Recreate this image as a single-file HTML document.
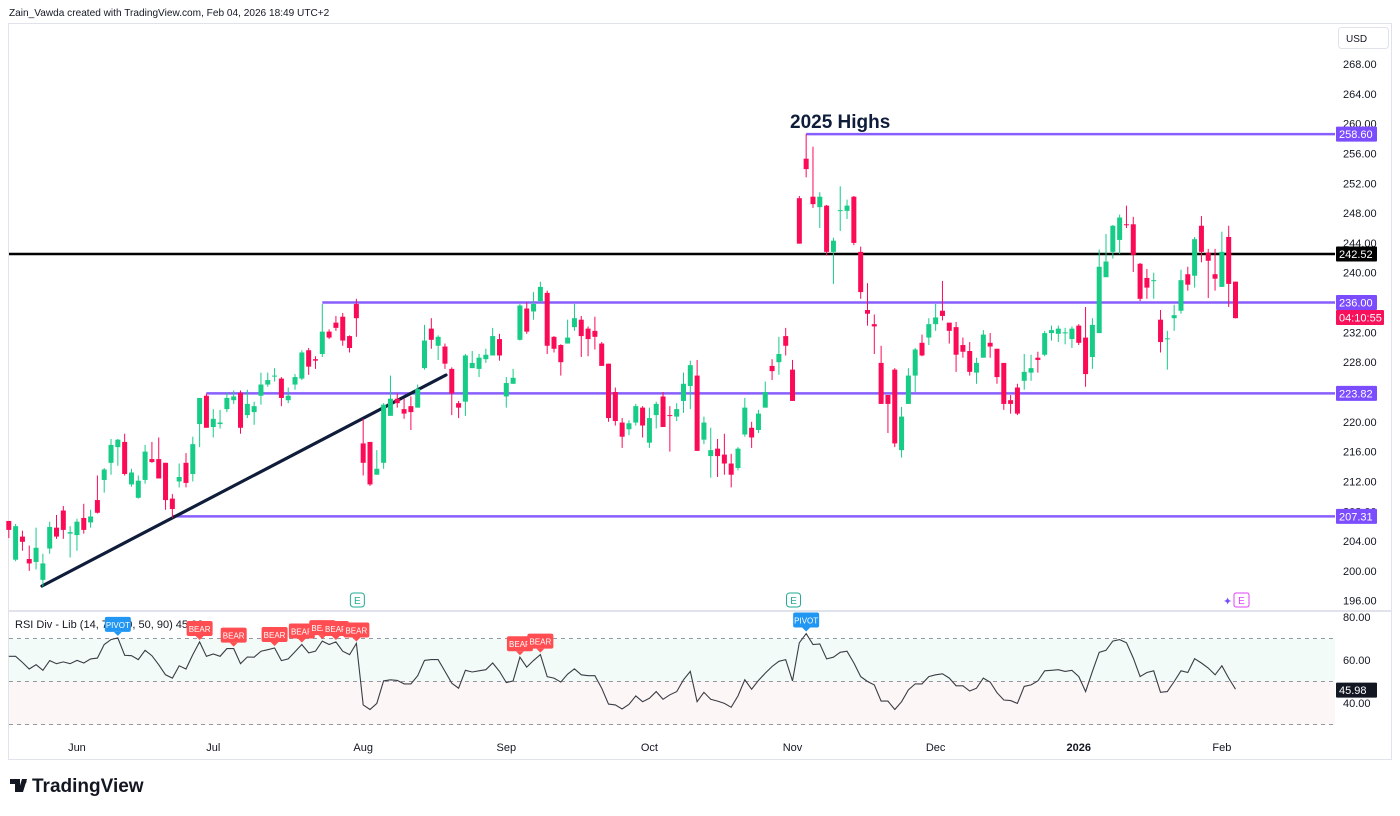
<!DOCTYPE html>
<html><head><meta charset="utf-8"><style>
html,body{margin:0;padding:0;background:#fff;}
body{width:1400px;height:811px;overflow:hidden;font-family:"Liberation Sans",sans-serif;}
svg text{font-family:"Liberation Sans",sans-serif;}
</style></head><body>
<svg id="c" width="1400" height="811" viewBox="0 0 1400 811" xmlns="http://www.w3.org/2000/svg">
<text x="9" y="16" font-size="10.1" fill="#131722">Zain_Vawda created with TradingView.com, Feb 04, 2026 18:49 UTC+2</text>
<rect x="8.5" y="23.5" width="1383" height="736" fill="none" stroke="#e0e3eb"/>
<g id="rsibg">
<rect x="9" y="638.5" width="1326" height="42.5" fill="#f3fbf8"/>
<rect x="9" y="681" width="1326" height="43.5" fill="#fdf6f6"/>
</g>
<line x1="9" y1="611" x2="1391" y2="611" stroke="#e0e3eb" stroke-width="2"/>
<g id="grid"></g>
<g id="levels"></g>
<g id="candles"></g>
<g id="rsi"></g>
<g id="axes"></g>
<g id="overlay"></g>
<rect x="1338.5" y="27.5" width="50" height="21" rx="3" fill="#fff" stroke="#e0e3eb"/>
<text x="1346" y="42" font-size="10" fill="#131722">USD</text>
<g>
<path d="M10 779 h10 v13 h-5 v-8 h-5z M22 779 l5 0 l-4 13 l-5 0z" fill="#131722"/>
<circle cx="24" cy="781.5" r="2.5" fill="#131722"/>
<text x="32" y="792" font-size="19" font-weight="bold" fill="#131722">TradingView</text>
</g>
</svg>
<script>
const opens=[206.7,201.5,204.6,201.6,201.2,198.8,203.0,205.8,208.1,205.0,204.8,207.1,206.5,209.5,212.2,214.5,216.6,217.3,211.6,209.8,212.2,215.0,215.0,214.5,209.7,212.0,214.5,213.0,219.7,223.5,219.3,219.7,221.7,222.9,223.9,220.9,221.3,223.5,225.0,226.1,225.8,222.9,225.0,225.8,229.6,228.4,229.1,232.1,233.3,234.1,231.5,235.8,217.1,217.3,212.9,214.5,220.8,223.1,221.7,222.1,221.9,227.2,232.5,230.2,230.1,227.1,222.5,222.7,227.2,227.1,228.4,228.9,231.1,223.4,225.1,231.0,235.2,234.8,236.2,237.3,231.4,230.3,230.5,232.7,233.7,232.5,232.2,230.5,227.8,224.0,219.9,219.0,219.9,221.9,217.2,220.9,223.4,220.9,220.7,222.8,224.8,226.2,217.6,215.4,216.4,215.6,214.4,213.8,218.3,219.2,218.9,221.9,227.5,228.0,231.5,227.0,250.0,255.3,250.2,248.8,249.0,242.8,248.3,248.3,250.2,242.8,235.0,233.1,227.9,223.6,227.0,216.2,222.4,226.2,230.6,231.3,233.1,234.9,233.3,232.7,230.3,229.5,226.6,228.6,230.6,229.8,227.9,222.9,224.6,225.5,226.6,228.6,229.0,231.9,231.8,231.9,231.1,232.9,231.3,228.7,231.9,239.4,242.8,244.4,246.5,246.5,241.2,239.3,238.9,233.7,231.1,233.9,234.9,239.8,239.6,246.3,242.7,239.8,238.1,244.8,238.8];
const highs=[206.7,206.3,205.4,203.4,205.8,202.3,206.6,207.5,208.7,206.0,207.0,209.0,208.2,212.8,213.8,217.7,217.7,218.4,213.7,212.8,216.9,217.3,217.9,214.5,210.3,214.4,215.8,218.0,223.2,223.8,221.7,221.6,223.9,224.2,224.2,224.3,222.7,226.6,226.6,227.2,226.0,224.6,226.4,229.6,229.9,228.8,235.8,232.4,234.2,234.6,231.6,236.5,220.4,217.3,216.2,222.5,226.2,223.8,223.1,223.4,225.0,233.0,233.9,231.6,230.5,227.3,222.8,229.1,229.5,229.1,229.8,232.6,231.8,226.0,227.1,235.8,236.0,237.4,238.8,237.6,231.5,230.4,233.7,235.8,234.2,232.8,234.1,230.7,227.8,224.6,220.5,220.2,222.4,222.1,221.9,222.7,224.0,222.1,222.5,226.6,228.2,228.3,220.7,219.2,217.7,218.4,215.7,216.6,223.2,220.0,221.6,225.4,228.4,231.4,232.6,228.3,250.3,258.6,256.9,250.8,249.1,244.7,251.6,249.8,250.3,243.5,238.6,234.4,230.2,223.6,227.2,222.0,227.2,229.9,231.7,233.9,235.8,238.9,233.3,233.4,231.3,230.7,228.6,232.3,231.9,229.8,227.9,223.6,225.1,229.1,229.0,229.4,232.2,232.9,232.9,232.6,232.8,233.1,235.4,233.9,243.1,245.2,246.4,247.8,249.0,247.5,241.3,240.5,240.0,235.0,232.2,235.7,240.4,240.8,244.8,247.6,243.2,243.2,245.5,246.3,238.8];
const lows=[204.4,201.3,202.7,200.0,200.2,197.9,202.3,204.3,204.3,201.8,202.7,205.0,205.8,207.7,210.5,212.9,214.1,212.8,211.3,209.7,211.7,214.5,212.4,208.2,207.1,211.2,211.2,212.0,216.6,219.2,217.9,219.1,221.3,222.4,218.4,220.5,219.6,222.3,224.7,225.4,222.1,222.5,224.3,225.6,226.3,227.1,228.7,231.1,232.2,230.2,229.3,231.4,212.8,211.4,212.9,213.7,220.8,221.9,220.4,218.9,221.9,227.0,229.8,228.3,227.1,220.9,220.5,220.8,227.2,226.0,227.9,228.9,228.2,221.9,225.1,230.9,231.8,233.7,236.0,229.1,229.3,226.2,230.5,232.2,228.7,228.8,229.7,227.5,220.0,219.5,216.5,218.2,219.5,217.9,216.5,219.1,219.3,216.0,220.1,221.2,221.7,216.1,217.0,212.5,212.6,212.9,211.2,213.5,218.0,216.5,218.5,221.9,225.6,226.3,228.9,222.8,243.9,252.8,248.7,246.0,242.3,238.5,245.6,247.2,243.7,236.5,232.9,229.1,222.4,218.5,216.6,215.2,222.4,224.0,228.8,230.3,232.2,233.6,230.5,226.7,228.6,226.2,225.1,228.6,228.6,225.1,221.6,221.1,220.9,224.3,225.5,226.6,228.8,230.9,230.7,230.4,229.9,230.3,224.7,227.1,231.9,239.4,241.9,242.5,246.0,240.1,236.2,236.5,236.5,229.3,227.0,232.2,234.5,237.6,238.0,241.4,236.6,237.6,238.1,235.4,233.9];
const closes=[205.5,206.0,203.9,201.0,203.1,201.0,205.9,204.6,205.5,205.2,206.6,205.5,207.3,207.8,213.6,216.9,217.6,213.0,213.2,212.1,216.0,214.6,212.4,209.5,208.3,212.6,211.8,217.0,223.2,219.2,220.4,219.9,223.2,223.4,219.2,222.4,222.1,225.0,225.6,226.2,223.2,223.5,226.0,229.3,227.4,228.2,232.1,231.3,232.6,230.9,229.9,233.9,214.5,211.6,213.7,222.3,223.1,222.5,221.1,221.3,224.4,230.9,231.0,231.4,227.8,223.8,221.9,228.9,227.9,228.6,229.0,231.5,228.9,225.2,225.9,235.6,232.1,235.8,238.1,230.2,229.8,228.0,231.3,233.9,231.5,231.1,231.4,227.5,220.5,220.1,218.0,219.8,222.1,219.5,220.5,222.4,219.3,220.8,221.7,225.1,227.6,216.1,219.9,216.2,215.4,214.4,212.9,216.4,221.9,217.9,221.1,224.0,226.8,229.1,230.2,222.8,243.9,253.9,249.2,250.2,242.8,244.3,248.4,249.0,244.0,237.4,234.5,232.8,222.4,222.4,217.1,220.7,226.2,229.7,228.9,233.1,234.0,234.2,232.2,229.0,229.4,226.7,227.9,231.7,230.1,226.0,222.4,222.4,221.1,226.7,227.2,228.3,231.9,232.3,232.5,232.0,232.5,230.6,226.4,233.0,240.8,241.5,246.3,247.4,246.4,242.4,236.5,238.0,239.0,230.7,231.2,234.3,239.0,238.4,244.5,242.8,241.6,239.2,242.8,238.5,233.9];
const rsiValues=[61.7,61.7,58.9,55.8,57.8,55.2,59.7,58.3,59.1,58.3,59.8,58.6,60.5,60.9,67.2,69.5,70.3,62.2,62.0,60.2,64.5,62.0,57.8,53.1,51.6,57.3,55.8,62.5,68.4,61.7,62.8,61.7,65.3,65.3,58.3,61.4,61.3,64.1,64.8,65.6,59.7,60.5,63.8,67.2,63.3,64.1,68.8,67.2,68.4,64.1,62.5,67.7,39.1,37.0,39.8,50.3,50.8,50.5,48.9,48.9,52.7,59.8,60.2,60.2,54.7,49.2,46.9,55.2,54.4,55.0,55.5,58.6,54.7,49.5,50.3,61.3,56.7,59.8,62.5,52.3,51.6,49.7,53.4,55.9,53.1,52.7,52.7,46.9,39.5,39.1,37.2,39.4,43.3,40.6,42.2,45.3,41.7,43.8,45.3,50.8,54.7,40.6,45.0,41.7,40.9,39.8,38.0,43.3,50.8,46.4,50.5,53.9,57.0,59.4,60.2,50.3,68.0,72.3,67.2,67.5,60.5,61.3,63.6,64.1,58.6,52.3,50.0,48.4,40.9,40.9,37.0,40.6,46.1,48.9,48.9,52.3,53.1,53.6,51.6,48.0,48.0,45.6,46.9,51.6,49.7,44.8,41.4,41.1,39.8,47.7,48.4,50.3,55.0,55.2,55.5,54.7,55.2,52.3,45.3,54.7,63.6,64.5,68.8,69.5,68.0,60.9,52.3,54.2,55.0,45.0,45.3,50.0,55.0,54.2,60.6,58.6,56.3,53.1,57.3,51.6,46.4];
const priceTicks=[268,264,260,256,252,248,244,240,236,232,228,224,220,216,212,208,204,200,196];
const rsiTicks=[80,60,40];
const monthLabels=["Jun","Jul","Aug","Sep","Oct","Nov","Dec","2026","Feb"];
const monthIndex=[10,30,52,73,94,115,136,157,178];
const levelPrices=[258.60,242.52,236.00,223.82,207.31];
const levelStart=[117,0,46,29,24];
const bearIdx=[28,33,39,43,46,48,51,75,78];
const pivotIdx=[16,117];
const earningsIdx=[51,115];
const lastRsi=45.98;

const NS="http://www.w3.org/2000/svg";
const X0=8.8, DX=6.815;
function xOf(i){return X0+DX*i;}
function yP(p){return 600.7-(p-196)*7.454;}
function yR(v){return 638.5+(70-v)*2.15;}
function mk(tag,attrs,parent){const e=document.createElementNS(NS,tag);for(const k in attrs)e.setAttribute(k,attrs[k]);parent.appendChild(e);return e;}
const G=id=>document.getElementById(id);

const axes=G('axes');
priceTicks.forEach(t=>{
  const e=mk('text',{x:1343,y:yP(t)+4,'font-size':11,fill:'#131722'},axes);
  
  
  e.textContent=t.toFixed(2);
});
rsiTicks.forEach(t=>{
  const e=mk('text',{x:1343,y:yR(t)+4,'font-size':11,fill:'#131722'},axes);
  
  
  e.textContent=t.toFixed(2);
});
monthLabels.forEach((m,k)=>{
  const e=mk('text',{x:xOf(monthIndex[k]),y:751,'font-size':11,fill:'#131722','text-anchor':'middle','font-weight':m==='2026'?'bold':'normal'},axes);
  
  
  e.textContent=m;
});

const rsiG=G('rsi');
[70,50,30].forEach(v=>{
  const l=mk('line',{x1:9,x2:1335,y1:yR(v),y2:yR(v),stroke:'#9598a1','stroke-dasharray':'4 4','stroke-width':1},rsiG);
  
  
});
let pts=rsiValues.map((v,i)=>xOf(i).toFixed(1)+','+yR(v).toFixed(1)).join(' ');
const rl=mk('polyline',{points:pts,fill:'none',stroke:'#3a3d45','stroke-width':1.1},rsiG);


const rt=mk('text',{x:15,y:628,'font-size':11,fill:'#131722'},rsiG);


rt.textContent='RSI Div - Lib (14, 70, 30, 50, 90)  '+lastRsi.toFixed(2);

const lv=G('levels');
levelPrices.forEach((p,k)=>{
  const black=k===1;
  const l=mk('line',{x1:black?9:xOf(levelStart[k]),x2:1335,y1:yP(p),y2:yP(p),stroke:black?'#000':'#7c4dff','stroke-width':2.5,opacity:black?1:0.9},lv);
  
  
});
const tl=mk('line',{x1:42,y1:586,x2:446,y2:375,stroke:'#0f1d3a','stroke-width':3.2,'stroke-linecap':'round'},lv);


const hl=mk('text',{x:790,y:128,'font-size':19,'font-weight':'bold',fill:'#0f1d3a'},lv);


hl.textContent='2025 Highs';

const cg=G('candles');
opens.forEach((o,i)=>{
  const c=closes[i],x=xOf(i),up=c>=o,col=up?'#16cc86':'#fb0a56';
  const w=mk('line',{x1:x,x2:x,y1:yP(highs[i]),y2:yP(lows[i]),stroke:col,'stroke-width':1},cg);
  
  
  const t=yP(Math.max(o,c)),b=yP(Math.min(o,c));
  const r=mk('rect',{x:x-2.5,y:t,width:5,height:Math.max(1,b-t),fill:col},cg);
  
  
});

const ov=G('overlay');
function tag(y,txt,bg,fg,name,w){
  const r=mk('rect',{x:1336,y:y-7.5,width:w||41,height:15,fill:bg,rx:1},ov);
  
  
  const t=mk('text',{x:1339,y:y+4,'font-size':11,fill:fg},ov);
  
  
  t.textContent=txt;
}
levelPrices.forEach((p,k)=>tag(yP(p),p.toFixed(2),k===1?'#000':'#7c4dff','#fff','level-price-tag'));
tag(yP(236)+15,'04:10:55','#f7105a','#fff','countdown-tag',48);
tag(yR(lastRsi),lastRsi.toFixed(2),'#131722','#fff','rsi-value-tag');

function marker(i,y,txt,bg,name){
  const x=xOf(i);
  const r=mk('rect',{x:x-13,y:y-8,width:26,height:15,rx:2,fill:bg},ov);
  
  
  const p=mk('path',{d:`M${x-4} ${y+7} L${x+4} ${y+7} L${x} ${y+11}Z`,fill:bg},ov);
  
  
  const t=mk('text',{x:x,y:y+3,'font-size':8,fill:'#fff','text-anchor':'middle'},ov);
  
  
  t.textContent=txt;
}
bearIdx.forEach(i=>marker(i,yR(rsiValues[i])-13,'BEAR','#ff4d52','bear-divergence-label'));
pivotIdx.forEach(i=>marker(i,yR(rsiValues[i])-13,'PIVOT','#2196f3','pivot-label'));
earningsIdx.forEach(i=>{
  const x=xOf(i)+1;
  const r=mk('rect',{x:x-7,y:593,width:14,height:14,rx:3,fill:'#fff',stroke:'#22ab94'},ov);
  
  
  const t=mk('text',{x:x,y:604,'font-size':10,fill:'#22ab94','text-anchor':'middle'},ov);
  
  
  t.textContent='E';
});
const fe=mk('rect',{x:1234,y:593,width:15,height:14,rx:2,fill:'#fff',stroke:'#e040fb'},ov);


const fet=mk('text',{x:1241.5,y:604,'font-size':10,fill:'#e040fb','text-anchor':'middle'},ov);


fet.textContent='E';
const fs=mk('text',{x:1223,y:605,'font-size':11,fill:'#7c4dff'},ov);


fs.textContent='✦';
</script>
</body></html>
